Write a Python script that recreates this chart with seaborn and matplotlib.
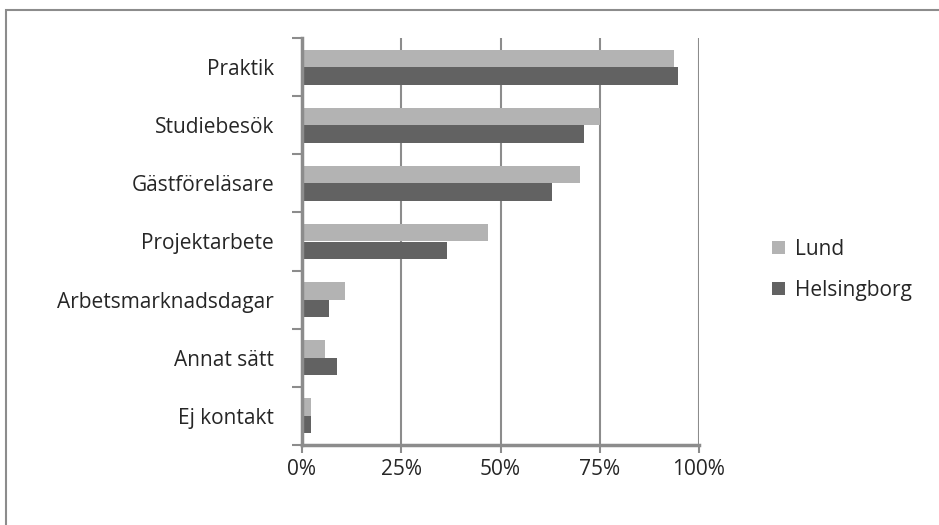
import numpy as np
import pandas as pd
import seaborn as sns
import matplotlib.pyplot as plt
from matplotlib.patches import Rectangle, Patch
from matplotlib.ticker import FixedLocator, PercentFormatter

categories = ['Praktik', 'Studiebesök', 'Gästföreläsare', 'Projektarbete',
              'Arbetsmarknadsdagar', 'Annat sätt', 'Ej kontakt']
lund = [93.8, 75.0, 70.0, 46.8, 10.8, 5.9, 2.3]
helsingborg = [94.8, 71.0, 63.0, 36.6, 6.9, 8.9, 2.3]
series = ['Lund', 'Helsingborg']
x_ticks = [0, 25, 50, 75, 100]

df = pd.DataFrame({
    'Kontakt': categories * 2,
    'Ort': ['Lund'] * len(categories) + ['Helsingborg'] * len(categories),
    'Andel': lund + helsingborg,
})

colors = {'Lund': '#b3b3b3', 'Helsingborg': '#626262'}
grid_c = '#8c8c8c'
fsize = 15

sns.set_style('white')
plt.rcParams['font.family'] = ['Open Sans', 'DejaVu Sans']

fig = plt.figure(figsize=(9.39, 5.25), dpi=100)
ax = fig.add_axes([302 / 939, 1 - 445 / 525, 397 / 939, 407 / 525])

sns.barplot(data=df, y='Kontakt', x='Andel', hue='Ort', order=categories,
            hue_order=series, palette=colors, orient='h', width=0.6,
            saturation=1, edgecolor='none', legend=False, ax=ax)

ax.set_xlim(0, 100)
ax.set_ylim(len(categories) - 0.5, -0.5)
ax.set_xlabel('')
ax.set_ylabel('')

ax.set_xticks(x_ticks)
ax.xaxis.set_major_formatter(PercentFormatter(decimals=0))
ax.grid(axis='x', color=grid_c, linewidth=1.5)
ax.set_axisbelow(True)

# y tick marks at category boundaries, labels at centres
ax.yaxis.set_major_locator(FixedLocator(np.arange(-0.5, len(categories), 1)))
ax.yaxis.set_major_formatter(plt.NullFormatter())
ax.yaxis.set_minor_locator(FixedLocator(np.arange(len(categories))))
ax.set_yticklabels(categories, minor=True)
ax.tick_params(axis='y', which='major', length=7, width=1.5, color=grid_c, left=True)
ax.tick_params(axis='y', which='minor', length=0, pad=20, labelsize=fsize)
ax.tick_params(axis='x', length=6, width=1.5, color=grid_c, bottom=True, pad=4, labelsize=fsize)

for side in ['top', 'right']:
    ax.spines[side].set_visible(False)
for side in ['left', 'bottom']:
    ax.spines[side].set_color(grid_c)
    ax.spines[side].set_linewidth(2.5)

handles = [Patch(facecolor=colors[s], edgecolor='none') for s in series]
fig.legend(handles, series, loc='center left', bbox_to_anchor=(762 / 939, 1 - 270 / 525),
           frameon=False, fontsize=fsize, handlelength=0.6, handleheight=0.6,
           handletextpad=0.5, labelspacing=0.95, borderpad=0)

fig.patches.append(Rectangle((6 / 939, -0.1), 2, 1.1 - 9.5 / 525, transform=fig.transFigure,
                             fill=False, edgecolor=grid_c, linewidth=1.5))

fig.savefig('out.png', dpi=100)
